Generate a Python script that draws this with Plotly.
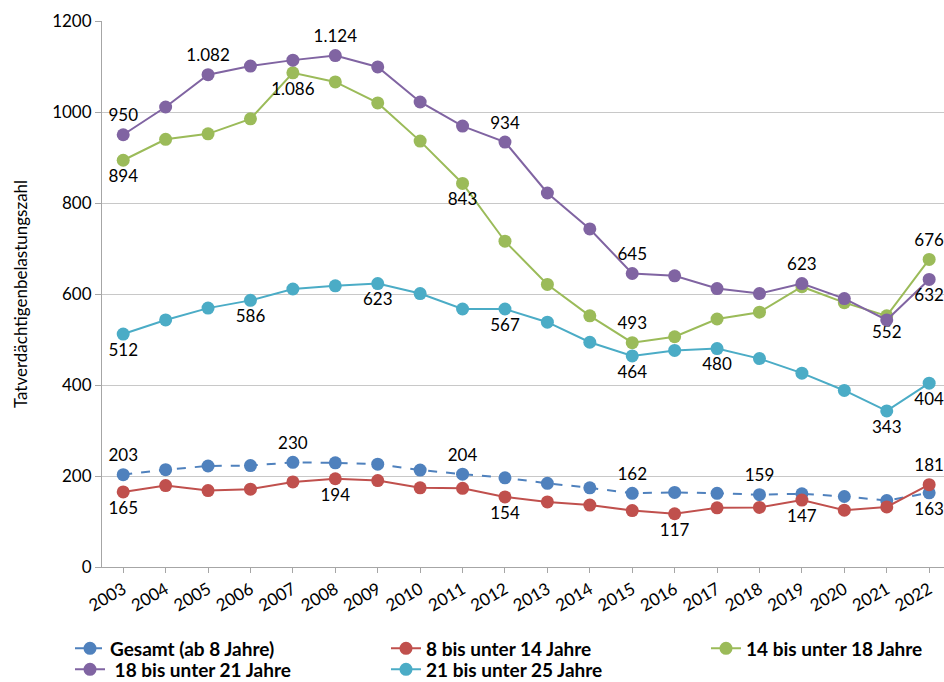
import plotly.graph_objects as go

years = list(range(2003, 2023))

gesamt = [203, 214, 222, 223, 230, 229, 226, 213, 204, 196, 184, 174, 162, 164, 162, 159, 161, 155, 146, 163]
age_8_14 = [165, 179, 168, 171, 187, 194, 190, 174, 173, 154, 143, 136, 124, 117, 130, 131, 147, 125, 132, 181]
age_14_18 = [894, 940, 952, 985, 1086, 1066, 1020, 936, 843, 716, 621, 552, 493, 506, 545, 560, 616, 581, 552, 676]
age_18_21 = [950, 1011, 1082, 1101, 1114, 1124, 1099, 1022, 969, 934, 822, 743, 645, 640, 612, 601, 623, 590, 543, 632]
age_21_25 = [512, 543, 569, 586, 611, 618, 623, 601, 567, 567, 538, 494, 464, 476, 480, 458, 426, 388, 343, 404]

names = ["Gesamt (ab 8 Jahre)", "8 bis unter 14 Jahre", "14 bis unter 18 Jahre",
         " 18 bis unter 21 Jahre", "21 bis unter 25 Jahre"]
colors = ["#4f81bd", "#c0504d", "#9bbb59", "#8064a2", "#4bacc6"]
dashes = ["dash", "solid", "solid", "solid", "solid"]
legends = ["legend", "legend2", "legend3", "legend4", "legend5"]

# labelled years and label positions per series
label_years = [
    {2003: "top", 2007: "top", 2011: "top", 2015: "top", 2018: "top", 2022: "bottom"},
    {2003: "bottom", 2008: "bottom", 2012: "bottom", 2016: "bottom", 2019: "bottom", 2022: "top"},
    {2003: "bottom", 2007: "bottom", 2011: "bottom", 2015: "top", 2021: "bottom", 2022: "top"},
    {2003: "top", 2005: "top", 2008: "top", 2012: "top", 2015: "top", 2019: "top", 2022: "bottom"},
    {2003: "bottom", 2006: "bottom", 2009: "bottom", 2012: "bottom", 2015: "bottom", 2017: "bottom",
     2021: "bottom", 2022: "bottom"},
]
series = [gesamt, age_8_14, age_14_18, age_18_21, age_21_25]


def fmt(v):
    return f"{v:,}".replace(",", ".")


FONT = "Lato, Carlito, sans-serif"

fig = go.Figure()
for name, vals, col, dsh, lab, lg in zip(names, series, colors, dashes, label_years, legends):
    texts = [fmt(v) if y in lab else "" for y, v in zip(years, vals)]
    pos = [(lab.get(y, "top") + " center") for y in years]
    fig.add_trace(go.Scatter(
        x=years, y=vals, name=name, mode="lines+markers+text",
        line=dict(color=col, width=2, dash=dsh),
        marker=dict(color=col, size=13),
        text=texts, textposition=pos,
        textfont=dict(family=FONT, size=17, color="#000000"),
        cliponaxis=False, legend=lg,
    ))

leg_common = dict(
    orientation="v", xanchor="left", yref="container", yanchor="top",
    font=dict(family=FONT, size=19, color="#000000", weight="bold"),
    itemwidth=30, bgcolor="rgba(0,0,0,0)", tracegroupgap=0,
)
row1 = 0.077
row2 = row1 - 21 / 682
col_x = [(70 - 102) / 842, (386 - 102) / 842, (706 - 102) / 842]

fig.update_layout(
    width=944, height=682,
    margin=dict(l=102, r=0, t=21, b=115, autoexpand=False),
    paper_bgcolor="white", plot_bgcolor="white",
    font=dict(family=FONT, size=16, color="#000000"),
    showlegend=True,
    legend=dict(x=col_x[0], y=row1, **leg_common),
    legend2=dict(x=col_x[1], y=row1, **leg_common),
    legend3=dict(x=col_x[2], y=row1, **leg_common),
    legend4=dict(x=col_x[0], y=row2, **leg_common),
    legend5=dict(x=col_x[1], y=row2, **leg_common),
)
fig.update_xaxes(
    tickmode="array", tickvals=years, ticktext=[str(y) for y in years],
    range=[2002.5, 2022.35], tickangle=-30, automargin=False,
    showgrid=False, showline=True, linecolor="#a6a6a6", linewidth=1,
    ticks="outside", tickcolor="#a6a6a6", ticklen=5,
    tickfont=dict(size=17), zeroline=False,
)
fig.update_yaxes(
    range=[0, 1200], dtick=200, tick0=0, automargin=False,
    showgrid=True, gridcolor="#c8c8c8", gridwidth=1,
    showline=True, linecolor="#a6a6a6", linewidth=1,
    ticks="outside", tickcolor="#a6a6a6", ticklen=6,
    tickfont=dict(size=17), zeroline=False,
    title=dict(text="Tatverdächtigenbelastungszahl", font=dict(size=17), standoff=20),
)

fig.write_html("out.html", config={"displayModeBar": False},
               post_script="document.body.style.margin='0px';")
